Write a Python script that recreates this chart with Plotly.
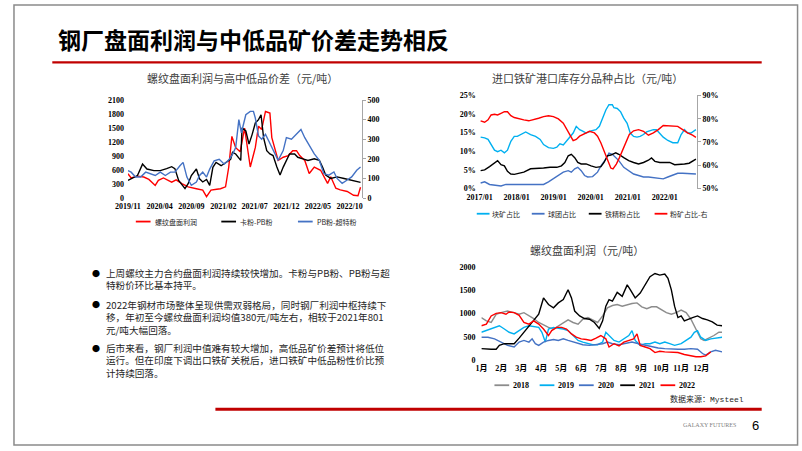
import plotly.graph_objects as go
import pandas as pd

W, H = 802, 451

# ---------------- Chart 1: 螺纹盘面利润与高中低品价差 ----------------
C1_START = "2019-11-01"
C1_END_M = 36.9
PROFIT_M = [0.0, 0.5, 1.5, 2.5, 3.3, 4.3, 4.8, 5.6, 6.9, 7.6, 8.5, 9.5, 10.8, 11.8, 12.4,
            13.1, 14.0, 14.6, 15.4, 15.9, 16.4, 17.0, 17.7, 18.4, 19.3, 20.1, 20.6, 21.1, 21.7, 22.4,
            22.7, 23.7, 24.5, 25.3, 26.0, 26.6, 27.1, 27.9, 28.6, 29.4, 30.4, 31.5, 32.0, 32.8, 33.5,
            34.6, 35.6, 36.3, 36.7]
PROFIT_V = [520, 430, 470, 450, 400, 270, 380, 430, 340, 390, 310, 240, 200, 170, 30,
            170, 190, 200, 240, 660, 1320, 1080, 990, 1500, 665, 1085, 1540, 1470, 1855, 1820,
            1295, 805, 875, 910, 1015, 1015, 910, 805, 525, 665, 595, 315, 455, 210, 175,
            140, 60, 50, 230]
KPB_M = [0.0, 0.5, 1.5, 2.3, 3.0, 4.1, 5.1, 6.1, 6.9, 7.4, 8.0, 9.0, 9.5, 10.0, 10.8,
         11.3, 11.8, 12.4, 12.9, 13.4, 13.9, 14.7, 15.5, 16.2, 16.5, 17.0, 17.8, 18.0, 18.6, 19.1,
         19.6, 20.1, 20.6, 21.0, 21.4, 21.9, 22.4, 22.9, 23.5, 24.0, 24.5, 25.0, 25.5, 26.3, 26.8,
         27.6, 28.4, 29.4, 30.2, 30.7, 31.2, 32.0, 33.0, 34.1, 35.1, 36.1, 36.7]
KPB_V = [90, 98, 115, 173, 148, 140, 140, 150, 160, 150, 90, 48, 73, 115, 148,
         98, 82, 95, 65, 157, 182, 165, 182, 198, 233, 225, 192, 358, 342, 275,
         325, 383, 400, 425, 308, 242, 225, 217, 158, 117, 158, 192, 225, 225, 208,
         200, 192, 200, 192, 158, 117, 100, 108, 100, 92, 83, 80]
PBS_M = [0.0, 0.5, 1.2, 2.0, 2.8, 3.6, 4.3, 5.1, 5.9, 6.7, 7.4, 8.2, 8.7, 9.3, 10.0,
         10.8, 11.3, 11.8, 12.4, 12.9, 13.6, 14.4, 15.2, 16.0, 16.5, 17.0, 17.5, 17.9, 18.6, 19.3,
         19.8, 20.1, 20.6, 21.1, 21.7, 22.2, 22.9, 23.7, 24.5, 25.0, 25.8, 26.8, 27.3, 27.9, 28.6,
         29.4, 30.2, 30.9, 31.7, 32.5, 33.0, 33.8, 34.6, 35.3, 36.1, 36.7]
PBS_V = [140, 132, 107, 107, 132, 123, 115, 132, 115, 132, 132, 165, 182, 107, 65,
         82, 115, 132, 107, 148, 190, 198, 173, 198, 223, 257, 400, 333, 425, 442,
         442, 408, 317, 300, 325, 292, 242, 192, 242, 308, 300, 333, 350, 308, 267,
         225, 192, 125, 117, 133, 100, 75, 92, 108, 142, 158]
C1_NAMES = ["螺纹盘面利润", "卡粉-PB粉", "PB粉-超特粉"]

# ---------------- Chart 2: 进口铁矿港口库存分品种占比 ----------------
C2_START = "2017-01-01"
C2_END_M = 70.4
LUMP_M = [0.3, 1.6, 2.7, 3.7, 4.8, 5.8, 6.9, 8.0, 9.0, 10.1, 11.2, 12.2, 13.8, 14.9, 16.5,
          18.1, 19.6, 20.7, 22.3, 23.9, 25.0, 26.0, 27.1, 28.1, 29.2, 30.3, 31.3, 32.4, 33.4, 34.5,
          36.1, 37.7, 38.8, 39.8, 40.9, 41.9, 43.0, 43.5, 44.6, 45.7, 46.7, 47.8, 48.8, 49.9, 51.0,
          52.0, 53.1, 54.1, 55.2, 56.3, 57.3, 58.4, 59.5, 61.0, 62.6, 64.2, 65.3, 66.4, 67.4, 68.5,
          69.5, 70.1]
LUMP_V = [13.8, 13.6, 13.2, 11.8, 10.3, 9.9, 10.3, 9.6, 10.3, 12.7, 14.0, 14.0, 14.6, 15.2, 14.5,
          14.0, 13.2, 11.8, 11.0, 10.8, 11.1, 12.0, 11.7, 12.7, 14.0, 14.9, 16.7, 15.8, 15.4, 14.9,
          15.5, 15.8, 16.7, 18.9, 21.1, 22.5, 22.5, 21.7, 21.5, 20.6, 18.9, 17.5, 14.9, 14.0, 13.8,
          14.0, 14.5, 15.2, 15.5, 15.8, 15.8, 14.9, 13.8, 12.9, 12.3, 12.3, 14.5, 15.8, 14.9, 14.9,
          15.5, 15.8]
PELLET_M = [0.3, 1.6, 3.2, 4.8, 6.9, 8.5, 10.1, 12.2, 14.3, 16.5, 18.6, 20.7, 22.3, 23.9, 25.5,
            27.1, 28.7, 29.7, 30.8, 31.8, 32.9, 34.0, 35.0, 36.6, 38.2, 39.3, 40.9, 41.9, 43.0, 44.1,
            45.1, 46.7, 48.3, 49.9, 51.5, 53.1, 54.7, 56.3, 57.9, 59.5, 61.0, 62.6, 64.2, 65.8, 67.9,
            70.1]
PELLET_V = [1.5, 1.8, 1.1, 0.9, 0.7, 1.1, 1.1, 1.1, 1.1, 1.3, 1.3, 1.1, 1.8, 2.6, 3.5,
            4.4, 4.8, 4.4, 5.3, 5.7, 4.8, 3.5, 3.1, 3.2, 4.4, 6.1, 7.9, 9.5, 9.2, 8.3,
            7.5, 5.7, 4.8, 3.9, 3.5, 3.1, 3.1, 2.9, 2.6, 2.6, 3.1, 3.5, 4.1, 4.1, 4.1,
            3.9]
CONC_M = [0.3, 1.6, 3.2, 4.8, 5.8, 6.9, 8.0, 9.0, 10.1, 11.2, 12.7, 14.3, 16.5, 18.6, 20.7,
          22.8, 25.0, 26.5, 27.6, 28.7, 29.7, 30.8, 31.8, 32.9, 34.5, 36.1, 37.7, 39.3, 40.3, 41.4,
          42.5, 44.1, 45.1, 46.7, 48.3, 49.9, 51.5, 53.1, 54.7, 55.7, 56.8, 58.4, 60.0, 61.6, 63.2,
          64.8, 66.4, 67.9, 69.5, 70.1]
CONC_V = [4.8, 5.0, 5.9, 7.0, 7.5, 6.4, 6.1, 4.6, 3.9, 3.8, 4.1, 4.4, 5.3, 5.5, 5.5,
          5.7, 5.7, 6.1, 7.0, 8.8, 9.2, 8.3, 7.0, 6.6, 6.6, 6.1, 5.7, 5.9, 7.0, 8.8,
          9.0, 9.6, 9.2, 8.3, 7.5, 7.0, 6.6, 7.0, 7.6, 8.2, 7.3, 7.0, 7.0, 7.0, 6.4,
          6.4, 6.6, 6.8, 7.6, 7.9]
FINES_M = [0.3, 1.6, 2.7, 3.7, 4.8, 5.8, 6.9, 8.0, 9.0, 10.1, 11.2, 12.7, 14.3, 15.9, 17.5,
           19.1, 20.7, 22.3, 23.9, 25.5, 27.1, 28.1, 29.2, 30.3, 31.3, 32.4, 34.0, 35.6, 37.2, 38.2,
           39.3, 40.3, 41.4, 42.5, 43.2, 44.3, 45.3, 46.4, 47.4, 48.5, 49.9, 51.5, 53.1, 54.7, 56.3,
           57.9, 59.5, 61.0, 62.6, 64.2, 65.8, 67.4, 69.0, 70.1]
FINES_V = [79.1, 78.5, 79.5, 81.6, 81.9, 81.6, 82.3, 83.0, 83.0, 81.3, 80.5, 79.9, 79.5, 79.1, 79.5,
           80.2, 80.9, 81.3, 80.9, 79.9, 78.1, 76.0, 73.2, 70.6, 71.1, 72.5, 73.4, 74.6, 73.9, 72.5,
           69.6, 66.1, 61.9, 58.8, 58.4, 60.5, 63.3, 66.8, 70.4, 73.2, 74.8, 75.3, 74.6, 72.9, 73.9,
           75.3, 77.1, 76.9, 76.7, 76.7, 75.3, 73.9, 72.9, 72.0]
C2_NAMES = ["块矿占比", "球团占比", "铁精粉占比", "粉矿占比-右"]

# ---------------- Chart 3: 螺纹盘面利润（按年份） ----------------
MONTH_LABELS = ["1月", "2月", "3月", "4月", "5月", "6月", "7月", "8月", "9月", "10月", "11月", "12月"]
Y2018_M = [0, 0.25, 0.49, 0.74, 0.98, 1.31, 1.64, 1.89, 2.13, 2.38, 2.62, 2.87, 3.11, 3.36, 3.61,
           3.85, 4.1, 4.34, 4.59, 4.84, 5.08, 5.33, 5.57, 5.82, 6.07, 6.31, 6.56, 6.8, 7.05, 7.3,
           7.54, 7.79, 8.03, 8.28, 8.52, 8.77, 9.02, 9.26, 9.51, 9.75, 10.0, 10.25, 10.49, 10.74, 10.98,
           11.15, 11.39, 11.64, 11.89, 12.05]
Y2018_V = [912, 842, 807, 983, 1018, 1053, 1018, 983, 1018, 962, 892, 807, 751, 702, 667,
           737, 793, 863, 807, 772, 877, 912, 863, 807, 948, 1123, 1172, 1193, 1158, 1193,
           1214, 1228, 1144, 1102, 1144, 1144, 1088, 1018, 983, 1018, 1074, 1018, 877, 667, 456,
           421, 470, 527, 597, 597]
Y2019_M = [0, 0.25, 0.49, 0.74, 0.9, 1.15, 1.39, 1.64, 1.89, 2.13, 2.38, 2.62, 2.87, 3.03, 3.2,
           3.36, 3.61, 3.85, 4.1, 4.34, 4.59, 4.84, 5.08, 5.33, 5.57, 5.82, 6.07, 6.23, 6.39, 6.64,
           6.89, 7.13, 7.38, 7.54, 7.7, 7.95, 8.2, 8.44, 8.69, 8.93, 9.18, 9.43, 9.67, 10.0, 10.25,
           10.49, 10.66, 10.82, 10.98, 11.23, 11.48, 11.8, 12.05]
Y2019_V = [597, 632, 667, 702, 737, 667, 597, 562, 632, 702, 737, 723, 702, 597, 386,
           667, 702, 681, 667, 632, 527, 421, 386, 351, 330, 330, 386, 597, 527, 421,
           386, 456, 527, 632, 421, 316, 351, 351, 386, 351, 386, 351, 316, 351, 421,
           491, 597, 632, 491, 421, 456, 470, 491]
Y2020_M = [0, 0.33, 0.66, 0.98, 1.31, 1.64, 1.89, 2.13, 2.38, 2.54, 2.7, 2.87, 3.11, 3.36, 3.61,
           3.85, 4.1, 4.34, 4.59, 4.84, 5.08, 5.41, 5.74, 6.07, 6.31, 6.56, 6.89, 7.21, 7.54, 7.87,
           8.2, 8.52, 8.85, 9.18, 9.51, 9.84, 10.16, 10.49, 10.82, 11.07, 11.23, 11.48, 11.72, 11.97, 12.05]
Y2020_V = [491, 491, 456, 386, 316, 281, 386, 421, 386, 456, 351, 316, 386, 421, 442,
           421, 456, 421, 386, 351, 330, 316, 330, 351, 386, 351, 330, 351, 386, 351,
           316, 281, 260, 246, 232, 232, 232, 246, 232, 140, 105, 176, 211, 190, 176]
Y2021_M = [0, 0.25, 0.49, 0.74, 0.9, 1.15, 1.39, 1.64, 1.89, 2.13, 2.38, 2.62, 2.87, 3.11, 3.36,
           3.61, 3.85, 4.1, 4.34, 4.51, 4.67, 4.92, 5.16, 5.41, 5.66, 5.9, 6.07, 6.23, 6.39, 6.56,
           6.8, 7.05, 7.3, 7.46, 7.7, 7.95, 8.2, 8.44, 8.69, 8.93, 9.18, 9.34, 9.51, 9.67, 9.84,
           10.0, 10.16, 10.33, 10.57, 10.82, 11.07, 11.31, 11.56, 11.8, 12.05]
Y2021_V = [246, 232, 232, 232, 316, 351, 351, 351, 470, 597, 737, 842, 983, 1334, 1193,
           1123, 1228, 1299, 1509, 1334, 1053, 948, 892, 877, 807, 681, 842, 1158, 1299, 1264,
           1453, 1369, 1615, 1509, 1334, 1439, 1615, 1790, 1860, 1825, 1846, 1755, 1509, 1158, 912,
           948, 842, 877, 912, 948, 892, 863, 821, 751, 737]
Y2022_M = [0, 0.25, 0.49, 0.74, 0.98, 1.23, 1.39, 1.64, 1.89, 2.13, 2.38, 2.62, 2.87, 3.11, 3.36,
           3.52, 3.77, 4.02, 4.26, 4.51, 4.75, 5.0, 5.25, 5.49, 5.74, 5.98, 6.23, 6.39, 6.64, 6.89,
           7.13, 7.38, 7.62, 7.79, 7.95, 8.2, 8.44, 8.69, 8.93, 9.18, 9.51, 9.84, 10.16, 10.49, 10.74,
           10.98, 11.23, 11.48]
Y2022_V = [737, 772, 948, 1004, 1018, 983, 1032, 1018, 962, 807, 772, 842, 772, 667, 527,
           632, 702, 702, 667, 562, 491, 456, 442, 421, 470, 527, 456, 281, 351, 302,
           386, 421, 456, 562, 316, 281, 246, 161, 190, 176, 161, 161, 119, 91, 70,
           70, 91, 176]
C3_NAMES = ["2018", "2019", "2020", "2021", "2022"]

# ---------------- Text ----------------
MAIN_TITLE = "钢厂盘面利润与中低品矿价差走势相反"
TITLE_1 = "螺纹盘面利润与高中低品价差（元/吨）"
TITLE_2 = "进口铁矿港口库存分品种占比（元/吨）"
TITLE_3 = "螺纹盘面利润（元/吨）"
SOURCE = "数据来源：Mysteel"
BULLETS = [
    ["上周螺纹主力合约盘面利润持续较快增加。卡粉与PB粉、PB粉与超", "特粉价环比基本持平。"],
    ["2022年钢材市场整体呈现供需双弱格局，同时钢厂利润中枢持续下",
     "移，年初至今螺纹盘面利润均值380元/吨左右，相较于2021年801", "元/吨大幅回落。"],
    ["后市来看，钢厂利润中值难有较大增加，高低品矿价差预计将低位",
     "运行。但在印度下调出口铁矿关税后，进口铁矿中低品粉性价比预", "计持续回落。"],
]

# ---------------- Styles ----------------
RED, BLACK, BLUE, CYAN, GRAY = "#FF0000", "#000000", "#4472C4", "#00B0F0", "#8C8C8C"
DARKRED = "#C00000"
CJK = "Noto Sans CJK SC"
TICKFONT = dict(family="Liberation Serif, " + CJK, size=8, color="#000000", weight="bold")
AXISLINE = "#A6A6A6"


def px(x):
    return x / W


def py(y):
    return 1 - y / H


def month_dates(start, months):
    base = pd.Timestamp(start)
    return [base + pd.Timedelta(days=m * 30.4375) for m in months]


fig = go.Figure()

# chart 1
for mm, vv, name, color, yax in [(PROFIT_M, PROFIT_V, C1_NAMES[0], RED, "y"),
                                 (KPB_M, KPB_V, C1_NAMES[1], BLACK, "y2"),
                                 (PBS_M, PBS_V, C1_NAMES[2], BLUE, "y2")]:
    fig.add_trace(go.Scatter(x=month_dates(C1_START, mm), y=vv, name=name, mode="lines",
                             line=dict(color=color, width=1.4), xaxis="x", yaxis=yax, showlegend=False))
# chart 2
C2_SERIES = [(LUMP_M, LUMP_V, CYAN, "y3"), (PELLET_M, PELLET_V, BLUE, "y3"),
             (CONC_M, CONC_V, BLACK, "y3"), (FINES_M, FINES_V, RED, "y4")]
for (mm, vv, color, yax), name in zip(C2_SERIES, C2_NAMES):
    fig.add_trace(go.Scatter(x=month_dates(C2_START, mm), y=vv, name=name, mode="lines",
                             line=dict(color=color, width=1.4), xaxis="x2", yaxis=yax, showlegend=False))
# chart 3
C3_SERIES = [(Y2018_M, Y2018_V, GRAY), (Y2019_M, Y2019_V, CYAN), (Y2020_M, Y2020_V, BLUE),
             (Y2021_M, Y2021_V, BLACK), (Y2022_M, Y2022_V, RED)]
for (mm, vv, color), name in zip(C3_SERIES, C3_NAMES):
    fig.add_trace(go.Scatter(x=mm, y=vv, name=name, mode="lines",
                             line=dict(color=color, width=1.4), xaxis="x3", yaxis="y5", showlegend=False))

common = dict(showgrid=False, zeroline=False, tickfont=TICKFONT, fixedrange=True)
c1_range = [pd.Timestamp(C1_START), month_dates(C1_START, [C1_END_M])[0]]
c2_range = [pd.Timestamp(C2_START), month_dates(C2_START, [C2_END_M])[0]]

fig.update_layout(
    width=W, height=H, autosize=False,
    margin=dict(l=0, r=0, t=0, b=0),
    paper_bgcolor="white", plot_bgcolor="rgba(0,0,0,0)",
    showlegend=False,
    xaxis=dict(domain=[px(117), px(355)], anchor="y", type="date", range=c1_range,
               tick0=C1_START, dtick="M5", tickformat="%Y/%m", showline=False, ticks="",
               ticklabelstandoff=2, **common),
    yaxis=dict(domain=[py(198), py(98)], anchor="x", range=[0, 2100], dtick=300, tick0=0,
               showline=False, ticks="", ticklabelstandoff=3, **common),
    yaxis2=dict(overlaying="y", side="right", anchor="x", range=[0, 500], dtick=100, tick0=0,
                showline=True, linecolor=AXISLINE, linewidth=1, ticks="outside", ticklen=3,
                tickcolor=AXISLINE, **common),
    xaxis2=dict(domain=[px(475), px(696)], anchor="y3", type="date", range=c2_range,
                tick0=C2_START, dtick="M12", tickformat="%Y/%m", showline=False, ticks="",
                ticklabelstandoff=2, **common),
    yaxis3=dict(domain=[py(188.3), py(93.3)], anchor="x2", range=[0, 25], dtick=5, tick0=0,
                ticksuffix="%", showline=False, ticks="", ticklabelstandoff=3, **common),
    yaxis4=dict(overlaying="y3", side="right", anchor="x2", range=[50, 90], dtick=10, tick0=50,
                ticksuffix="%", showline=True, linecolor=AXISLINE, linewidth=1, ticks="outside",
                ticklen=3, tickcolor=AXISLINE, **common),
    xaxis3=dict(domain=[px(476.7), px(721.7)], anchor="y5", range=[0, 12.05],
                tickvals=list(range(len(MONTH_LABELS))), ticktext=MONTH_LABELS,
                showline=False, ticks="", ticklabelstandoff=2, **common),
    yaxis5=dict(domain=[py(363.3), py(268.3)], anchor="x3", range=[0, 2000], dtick=500, tick0=0,
                showline=False, ticks="", ticklabelstandoff=5, **common),
)

ann = []
shapes = []


def text(x, y, s, size, color="#262626", family=CJK, xanchor="left", weight="normal"):
    ann.append(dict(x=px(x), y=py(y), xref="paper", yref="paper", text=s, showarrow=False,
                    xanchor=xanchor, yanchor="middle", align="left", borderpad=0,
                    font=dict(family=family, size=size, color=color, weight=weight)))


def hline(x0, x1, y, color, width):
    shapes.append(dict(type="line", xref="paper", yref="paper", x0=px(x0), x1=px(x1),
                       y0=py(y), y1=py(y), line=dict(color=color, width=width)))


# slide frame and decoration
shapes.append(dict(type="rect", xref="paper", yref="paper", x0=px(1), x1=px(798.5),
                   y0=py(450), y1=py(1), line=dict(color="#8A8A8A", width=1.5)))
hline(40, 762, 59.5, DARKRED, 2.2)
hline(206, 762, 413.5, DARKRED, 3)
text(45, 36, "<b>" + MAIN_TITLE + "</b>", 23, color="#000000")

# chart titles
text(233.5, 75.7, TITLE_1, 11, color="#404040", xanchor="center")
text(584.7, 75.7, TITLE_2, 11, color="#404040", xanchor="center")
text(584.7, 250.7, TITLE_3, 11, color="#404040", xanchor="center")

# legends
for name, color, x0 in zip(C1_NAMES, [RED, BLACK, BLUE], [125, 212, 290]):
    hline(x0, x0 + 15, 222, color, 1.8)
    text(x0 + 18, 222, name, 7)
for name, color, x0 in zip(C2_NAMES, [CYAN, BLUE, BLACK, RED], [472, 528, 586, 653]):
    hline(x0, x0 + 13, 214, color, 1.8)
    text(x0 + 15, 214, name, 7)
for name, (mm, vv, color), x0 in zip(C3_NAMES, C3_SERIES, [490, 536, 576, 618, 659]):
    hline(x0, x0 + 15, 389, color, 1.8)
    text(x0 + 18, 389, name, 8, color="#000000", family="Liberation Serif", weight="bold")

text(745, 403, SOURCE, 8, color="#262626", family="Liberation Mono, " + CJK, xanchor="right")

# bullet paragraphs (one text block per paragraph)
PARA_Y = [274.5, 307, 351.5]
LINE_STEP = 12.5
BODY_SIZE = 9.6
for lines, y0 in zip(BULLETS, PARA_Y):
    text(84, y0, "●", 8, color="#000000", xanchor="center")
    center = y0 + (len(lines) - 1) * LINE_STEP / 2
    text(94, center, "<br>".join(lines), BODY_SIZE, color="#262626")

# footer
text(709, 430, "GALAXY FUTURES", 6, color="#7F7F7F", family="Liberation Serif", xanchor="center")
text(756, 430, "6", 13, color="#000000", family="Liberation Sans", xanchor="center")

fig.update_layout(annotations=ann, shapes=shapes)

PAGE_FIX = """
document.documentElement.style.margin='0';
document.documentElement.style.padding='0';
document.body.style.margin='0';
document.body.style.padding='0';
document.body.style.overflow='hidden';
"""
fig.write_html("out.html", config={"displayModeBar": False}, post_script=PAGE_FIX)
